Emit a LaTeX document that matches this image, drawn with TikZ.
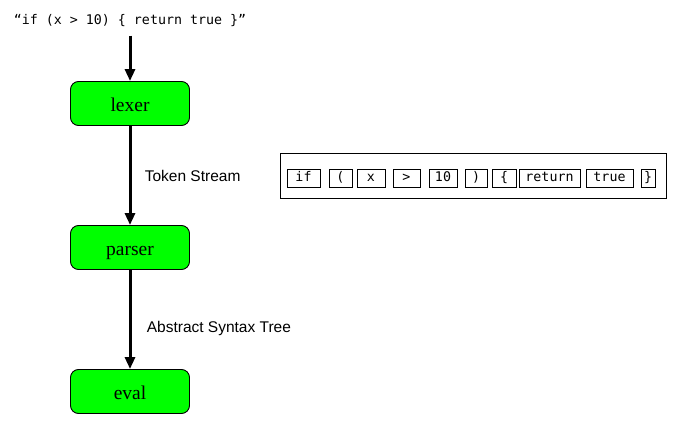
\documentclass[tikz,border=0pt]{standalone}
\usepackage{fontspec}
\usepackage{tikz}
\usetikzlibrary{arrows.meta,positioning}
\newfontfamily\codefont{DejaVu Sans Mono}
\newfontfamily\labelfont{Liberation Sans}
\newfontfamily\stagefont{Liberation Serif}
\definecolor{stage_green}{RGB}{0,255,0}

\begin{document}
\begin{tikzpicture}[x=1pt, y=-1pt,
          stage/.style={draw=black, fill=stage_green, rounded corners=8pt, line width=0.9pt,
                        minimum width=119pt, minimum height=44pt,
                        text height=16pt, text depth=0pt,
                        font=\stagefont\fontsize{19.5}{22}\selectfont},
          tok/.style={draw=black, line width=0.8pt, minimum height=18pt, inner sep=0pt,
                      text height=9.5pt, text depth=2.5pt,
                      font=\codefont\fontsize{13.3}{15}\selectfont},
          flow/.style={-{Triangle[width=10pt,length=12pt]}, line width=3pt},
          lbl/.style={font=\labelfont\fontsize{15.5}{18}\selectfont}]
        \useasboundingbox (0,0) rectangle (678,425);
        \node[font=\codefont\fontsize{13.3}{15}\selectfont] (src) at (130,21)
          {“if (x > 10) \{ return true \}”};
        \node[stage] (lexer)  at (130,103.5) {lexer};
        \node[stage] (parser) at (130,247.5) {parser};
        \node[stage] (eval)   at (130,391.5) {eval};
        \draw[flow, shorten <=5pt] (src) -- (lexer);
        \draw[flow] (lexer) -- (parser) node[lbl, midway, right=10pt] {Token Stream};
        \draw[flow] (parser) -- (eval) node[lbl, pos=0.59, right=12pt] {Abstract Syntax Tree};
        \node[draw=black, line width=0.9pt, minimum width=386pt, minimum height=45pt]
          (stream) at (473,175.5) {};
        \node[tok, minimum width=33pt] (tkif)   at (303.5,178) {if};
        \node[tok, minimum width=23pt] (tklp)   at (340.5,178) {(};
        \node[tok, minimum width=28pt] (tkx)    at (371,178)   {x};
        \node[tok, minimum width=27pt] (tkgt)   at (406.5,178) {>};
        \node[tok, minimum width=28pt] (tkten)  at (443,178)   {10};
        \node[tok, minimum width=22pt] (tkrp)   at (476,178)   {)};
        \node[tok, minimum width=24pt] (tklb)   at (504,178)   {\{};
        \node[tok, minimum width=61pt] (tkret)  at (549.5,178) {return};
        \node[tok, minimum width=47pt] (tktrue) at (609.5,178) {true};
        \node[tok, minimum width=14pt] (tkrb)   at (648,178)   {\}};
      \end{tikzpicture}
\end{document}
